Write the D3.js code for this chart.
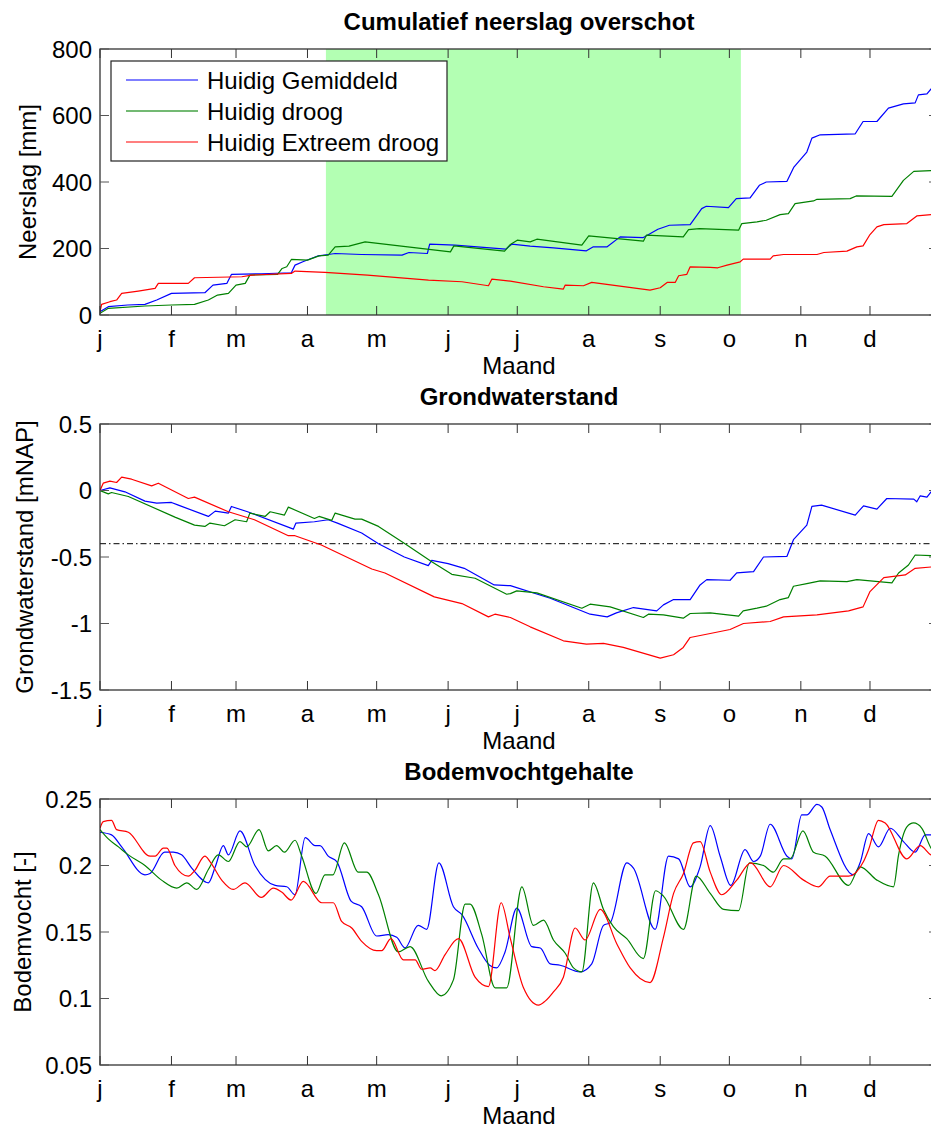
<!DOCTYPE html>
<html>
<head>
<meta charset="utf-8">
<script src="https://cdn.jsdelivr.net/npm/d3@7"></script>
<style>
  html, body { margin: 0; padding: 0; background: #fff; }
  svg { display: block; font-family: "Liberation Sans", Arial, Helvetica, sans-serif; }
</style>
</head>
<body>
<div id="chart"></div>
<script>
// ---------- DATA ----------
const monthTicks  = [0, 31, 59, 90, 120, 151, 181, 212, 243, 273, 304, 334];
const monthLabels = ["j", "f", "m", "a", "m", "j", "j", "a", "s", "o", "n", "d"];

const seriesNames  = ["Huidig Gemiddeld", "Huidig droog", "Huidig Extreem droog"];
const seriesColors = ["#0000ff", "#008000", "#ff0000"];

// Panel 1: Cumulatief neerslag overschot [mm]  ([day, value])
const neerslagGem = [[0,10],[3.6,25],[12,30],[19.5,32],[24.6,45],[31,65],[45.5,67],[49,90],[55,95],[57,122],[70,124],[83,127],[84.6,150],[88,160],[94.7,178],[99,182],[102,185],[113.5,182],[131,180],[134,188],[142,185],[143,213],[154,210],[176,198],[178.6,213],[186.6,207],[196.7,202],[211,193],[214,205],[220,205],[225.6,235],[235.7,233],[242,258],[247,270],[256,272],[261,320],[263,327],[272.6,323],[276,350],[282,352],[286,390],[289,400],[298,402],[301,445],[306.6,490],[308.8,532],[312.4,542],[327.6,545],[331,582],[337,582],[342,622],[348.5,635],[353.6,638],[355,662],[358.7,665],[360.5,680],[364,685]];
const neerslagDroog = [[0,5],[3.6,20],[19.5,27],[31,30],[41,32],[47,45],[51,60],[55.7,65],[59,90],[63,95],[65,120],[77,122],[79,140],[81,145],[83,167],[90,165],[95,178],[99,180],[102,205],[108,207],[115,220],[152,190],[153.5,208],[175.5,192],[178,212],[181,225],[186.6,220],[189.5,228],[209,210],[212,238],[235.7,222],[237,240],[253,235],[255.3,257],[260,260],[277,255],[278.4,275],[285,280],[289,285],[295,302],[298.6,305],[301.5,335],[309.5,343],[311,348],[325.4,350],[328,358],[343.5,357],[348.5,405],[353,432],[360.5,434],[364,435]];
const neerslagExtreem = [[0,10],[0.7,32],[4.3,40],[7.2,45],[9.4,65],[16.6,72],[23.9,80],[25.3,95],[38.3,95],[41,112],[61.5,115],[65.8,120],[83,125],[84.6,132],[97.6,128],[116,120],[142.5,105],[157,100],[168.5,88],[170,108],[178,102],[192.4,85],[201,78],[201.8,90],[209.7,88],[213.3,98],[238.6,75],[243,82],[246,98],[249.5,98],[251,118],[254.5,122],[256,145],[264.7,143],[268,142],[272,150],[277.7,160],[279,168],[290.7,168],[292,178],[296.5,182],[311,182],[314,188],[324,192],[328.3,205],[331,208],[334,242],[337,265],[340,272],[350,275],[354.3,298],[360.5,302],[364,305]];

// Panel 2: Grondwaterstand [mNAP]
const gwGem = [[0,0],[4.3,0.02],[10.8,-0.01],[19.5,-0.08],[24.6,-0.095],[31,-0.09],[34,-0.11],[47,-0.195],[50,-0.155],[55.7,-0.17],[57,-0.12],[64,-0.16],[83.9,-0.29],[85,-0.245],[93,-0.235],[99,-0.22],[103,-0.245],[113.5,-0.32],[120.8,-0.4],[132,-0.5],[142.4,-0.565],[143.9,-0.525],[151,-0.55],[158,-0.585],[171,-0.71],[177,-0.715],[178,-0.715],[195.3,-0.81],[212.6,-0.93],[220,-0.95],[224,-0.92],[231.4,-0.88],[241.5,-0.905],[244.4,-0.86],[248.8,-0.82],[256,-0.82],[260.3,-0.71],[263.2,-0.67],[273.3,-0.675],[276.2,-0.62],[283.5,-0.61],[287.8,-0.5],[298,-0.495],[300.8,-0.37],[306.6,-0.26],[308.8,-0.12],[313,-0.11],[327.6,-0.185],[331.2,-0.115],[337,-0.14],[341.3,-0.06],[353,-0.065],[354.3,-0.085],[355.8,-0.04],[358.7,-0.05],[360.5,-0.01],[364,0.0]];
const gwDroog = [[0,0],[3.6,-0.025],[5,-0.015],[12.3,-0.045],[32.5,-0.2],[41,-0.26],[45.5,-0.27],[47.7,-0.245],[54,-0.265],[58.6,-0.22],[63.6,-0.235],[65,-0.17],[71.6,-0.195],[73.8,-0.16],[80,-0.185],[81.7,-0.125],[93,-0.21],[95,-0.195],[100.5,-0.225],[102,-0.17],[110.6,-0.215],[113.5,-0.215],[120.8,-0.27],[132.3,-0.4],[143.9,-0.535],[152.6,-0.63],[162.7,-0.66],[176.4,-0.78],[178,-0.775],[180.8,-0.755],[189.5,-0.77],[209,-0.885],[212.6,-0.855],[221.3,-0.875],[235.7,-0.955],[237.9,-0.93],[244.4,-0.935],[253,-0.96],[256,-0.925],[264.7,-0.92],[277,-0.945],[279,-0.905],[285,-0.885],[289,-0.87],[295,-0.82],[298.6,-0.805],[300.8,-0.72],[306.6,-0.7],[312.4,-0.68],[324,-0.685],[328.3,-0.67],[343.5,-0.695],[346.4,-0.62],[350.7,-0.56],[353.6,-0.485],[360.5,-0.49],[364,-0.49]];
const gwExtreem = [[0,0],[1.4,0.055],[4.3,0.07],[7.2,0.06],[9.4,0.1],[13.7,0.085],[22.4,0.035],[25.3,0.055],[38.3,-0.06],[41,-0.05],[55.7,-0.16],[67,-0.22],[81.7,-0.34],[84.6,-0.34],[96,-0.41],[117.9,-0.59],[123.6,-0.62],[145,-0.8],[157,-0.85],[168.5,-0.95],[171.3,-0.93],[178,-0.955],[186.6,-1.025],[201,-1.13],[211,-1.155],[218.4,-1.15],[227,-1.18],[243,-1.26],[248.8,-1.235],[253,-1.18],[256,-1.105],[264.7,-1.075],[273.3,-1.045],[279.1,-1.0],[290.7,-0.985],[296.5,-0.95],[311,-0.935],[324.7,-0.905],[331,-0.875],[334,-0.76],[340,-0.655],[349.3,-0.635],[353.6,-0.585],[360.5,-0.575],[364,-0.57]];
const gwThreshold = -0.4;

// Panel 3: Bodemvochtgehalte [-]
const bvGem = [[0,0.225],[5,0.223],[9.4,0.214],[19.5,0.193],[21.7,0.194],[28,0.21],[31.8,0.21],[35.4,0.208],[39.8,0.198],[47,0.187],[50,0.199],[53.5,0.215],[55.7,0.208],[60.7,0.226],[67.2,0.2],[76,0.185],[81,0.184],[84.6,0.178],[89,0.221],[93.3,0.215],[95.4,0.215],[99,0.207],[102.7,0.203],[109,0.173],[113.5,0.169],[120,0.147],[125,0.148],[128.7,0.146],[132.3,0.138],[138,0.155],[141.7,0.152],[147,0.202],[153.3,0.169],[157,0.163],[164,0.138],[169,0.125],[172,0.123],[175.7,0.135],[180.8,0.168],[187.3,0.139],[191,0.138],[195.3,0.126],[199.6,0.125],[208.3,0.12],[213.3,0.126],[218.4,0.155],[221.3,0.157],[228.5,0.202],[231.4,0.198],[240.8,0.152],[246.6,0.207],[251,0.205],[256,0.184],[260.3,0.199],[264.7,0.23],[269,0.207],[273.6,0.185],[279.8,0.212],[283.5,0.203],[286.4,0.207],[290.7,0.231],[298,0.207],[300.1,0.205],[304.4,0.238],[306.6,0.238],[311,0.246],[313.1,0.244],[316.7,0.227],[326.8,0.193],[329.7,0.202],[333.4,0.224],[337.7,0.214],[342.8,0.228],[348.5,0.218],[353.6,0.21],[358,0.223],[364,0.223]];
const bvDroog = [[0,0.227],[3.6,0.22],[8,0.214],[12.3,0.208],[19.5,0.2],[26.7,0.189],[33.3,0.183],[37.6,0.187],[42,0.182],[47,0.197],[51.3,0.208],[55.7,0.203],[60.7,0.218],[63.6,0.214],[69,0.227],[73,0.211],[76.6,0.215],[80,0.21],[84.6,0.219],[87.5,0.207],[93.7,0.179],[97.6,0.193],[101,0.193],[106,0.217],[112,0.195],[115.7,0.195],[120.8,0.178],[129.4,0.135],[134.5,0.139],[142.4,0.113],[148,0.102],[153.3,0.114],[158.4,0.171],[160.5,0.171],[165.6,0.148],[171.4,0.108],[176.4,0.108],[183,0.184],[188,0.155],[192.4,0.159],[196.7,0.144],[201.8,0.134],[205.4,0.123],[209,0.12],[214,0.187],[218.4,0.167],[222.7,0.154],[228.5,0.145],[235.7,0.13],[241,0.181],[244.4,0.177],[253.1,0.152],[258.6,0.192],[264.7,0.179],[270.5,0.167],[277,0.166],[281.7,0.202],[287.8,0.2],[292.1,0.195],[296.5,0.205],[299.4,0.205],[304.9,0.226],[309.5,0.21],[314.6,0.207],[324.7,0.185],[329.7,0.199],[337,0.189],[344.2,0.184],[346.4,0.208],[350,0.229],[352.9,0.232],[356.5,0.228],[360.5,0.213],[364,0.207]];
const bvExtreem = [[0,0.228],[1.4,0.233],[5,0.234],[7.2,0.227],[12.3,0.225],[21.7,0.207],[23.9,0.207],[27.5,0.213],[29,0.213],[32.5,0.2],[38.3,0.192],[41,0.196],[45.5,0.207],[47.7,0.203],[52.8,0.189],[57.8,0.182],[62.9,0.187],[70,0.176],[75.2,0.183],[78.8,0.18],[82.9,0.174],[88.2,0.188],[96.2,0.172],[101.2,0.172],[104.8,0.158],[109.2,0.153],[113.5,0.143],[120,0.136],[122.2,0.136],[126.2,0.145],[131.6,0.129],[136.7,0.129],[139.5,0.122],[143.2,0.123],[145.3,0.121],[149.7,0.133],[155.5,0.145],[162.7,0.116],[168.5,0.109],[174,0.172],[178,0.145],[183.7,0.108],[190.2,0.095],[193.1,0.098],[196.7,0.105],[201,0.116],[206.1,0.153],[210.4,0.144],[217,0.167],[224.2,0.141],[230,0.123],[238.6,0.112],[244.4,0.146],[248.8,0.179],[253.1,0.194],[257.4,0.217],[260.3,0.218],[264.7,0.195],[269.7,0.178],[276.2,0.189],[282.3,0.202],[290.7,0.184],[296.5,0.2],[305.2,0.189],[311.7,0.184],[316.7,0.192],[324.7,0.192],[331.2,0.203],[333.4,0.212],[337.7,0.234],[340.6,0.232],[350,0.205],[355.8,0.215],[360.5,0.208],[364,0.207]];

// Growing season shading (days)
const shadeStart = 98, shadeEnd = 278;

// Axis ticks
const yTicks1 = [0, 200, 400, 600, 800];
const yTicks2 = [0.5, 0, -0.5, -1, -1.5];
const yTicks3 = [0.25, 0.2, 0.15, 0.1, 0.05];

// ---------- LAYOUT ----------
const W = 931, H = 1130;
const xLeft = 100, xRight = 938;
const panelH = 266;
const tickLen = 9;

const svg = d3.select("#chart").append("svg")
  .attr("width", W).attr("height", H).attr("viewBox", `0 0 ${W} ${H}`);

const x = d3.scaleLinear().domain([0, 363.5]).range([xLeft, xRight]);

const panels = [
  { top: 49,  title: "Cumulatief neerslag overschot", ylabel: "Neerslag [mm]", ylabelX: 36,
    domain: [0, 800], ticks: yTicks1, fmt: d => String(d),
    series: [neerslagGem, neerslagDroog, neerslagExtreem], curve: d3.curveLinear, shade: true, legend: true },
  { top: 424, title: "Grondwaterstand", ylabel: "Grondwaterstand [mNAP]", ylabelX: 33,
    domain: [-1.5, 0.5], ticks: yTicks2, fmt: d => String(d),
    series: [gwGem, gwDroog, gwExtreem], curve: d3.curveLinear, threshold: gwThreshold },
  { top: 799, title: "Bodemvochtgehalte", ylabel: "Bodemvocht [-]", ylabelX: 31,
    domain: [0.05, 0.25], ticks: yTicks3, fmt: d => String(d),
    series: [bvGem, bvDroog, bvExtreem], curve: d3.curveMonotoneX }
];

panels.forEach((p, pi) => {
  const top = p.top, bottom = top + panelH;
  const y = d3.scaleLinear().domain(p.domain).range([bottom, top]);
  const g = svg.append("g");
  const clipId = "clip" + pi;
  svg.append("clipPath").attr("id", clipId).append("rect")
    .attr("x", xLeft).attr("y", top).attr("width", xRight - xLeft).attr("height", panelH);

  // shading
  if (p.shade) {
    g.append("rect")
      .attr("x", x(shadeStart)).attr("y", top)
      .attr("width", x(shadeEnd) - x(shadeStart)).attr("height", panelH)
      .attr("fill", "#b3ffb3");
  }

  // threshold
  if (p.threshold !== undefined) {
    g.append("line")
      .attr("x1", xLeft).attr("x2", xRight)
      .attr("y1", y(p.threshold)).attr("y2", y(p.threshold))
      .attr("stroke", "#000").attr("stroke-width", 1)
      .attr("stroke-dasharray", "6,3,1.5,3");
  }

  // lines
  const line = d3.line().x(d => x(d[0])).y(d => y(d[1])).curve(p.curve);
  const lg = g.append("g").attr("clip-path", `url(#${clipId})`);
  p.series.forEach((s, i) => {
    lg.append("path").attr("d", line(s))
      .attr("fill", "none").attr("stroke", seriesColors[i]).attr("stroke-width", 1.2)
      .attr("stroke-linejoin", "round");
  });

  // axes box
  g.append("rect").attr("x", xLeft).attr("y", top)
    .attr("width", xRight - xLeft).attr("height", panelH)
    .attr("fill", "none").attr("stroke", "#222").attr("stroke-width", 1.2);

  // x ticks (bottom & top, inward)
  const xt = g.append("g");
  monthTicks.forEach(t => {
    xt.append("line").attr("x1", x(t)).attr("x2", x(t)).attr("y1", bottom).attr("y2", bottom - tickLen)
      .attr("stroke", "#333").attr("stroke-width", 1);
    xt.append("line").attr("x1", x(t)).attr("x2", x(t)).attr("y1", top).attr("y2", top + tickLen)
      .attr("stroke", "#333").attr("stroke-width", 1);
  });
  monthLabels.forEach((lab, i) => {
    xt.append("text").attr("x", x(monthTicks[i])).attr("y", bottom + 32)
      .attr("text-anchor", "middle").attr("font-size", 24).attr("fill", "#000").text(lab);
  });

  // y ticks (left & right, inward)
  const yt = g.append("g");
  p.ticks.forEach(t => {
    yt.append("line").attr("x1", xLeft).attr("x2", xLeft + tickLen).attr("y1", y(t)).attr("y2", y(t))
      .attr("stroke", "#555").attr("stroke-width", 1);
    yt.append("line").attr("x1", xRight).attr("x2", xRight - tickLen).attr("y1", y(t)).attr("y2", y(t))
      .attr("stroke", "#555").attr("stroke-width", 1);
    yt.append("text").attr("x", xLeft - 8).attr("y", y(t)).attr("dy", "0.36em")
      .attr("text-anchor", "end").attr("font-size", 24).attr("fill", "#000").text(p.fmt(t));
  });

  // x label
  g.append("text").attr("x", (xLeft + xRight) / 2).attr("y", bottom + 59)
    .attr("text-anchor", "middle").attr("font-size", 24).attr("fill", "#000").text("Maand");

  // y label
  g.append("text")
    .attr("transform", `translate(${p.ylabelX},${(top + bottom) / 2}) rotate(-90)`)
    .attr("text-anchor", "middle").attr("font-size", 24).attr("fill", "#000").text(p.ylabel);

  // title
  g.append("text").attr("x", (xLeft + xRight) / 2).attr("y", top - 19)
    .attr("text-anchor", "middle").attr("font-size", 24).attr("font-weight", "bold")
    .attr("fill", "#000").text(p.title);

  // legend
  if (p.legend) {
    const lgd = g.append("g");
    lgd.append("rect").attr("x", 111).attr("y", 61).attr("width", 336).attr("height", 100)
      .attr("fill", "#fff").attr("stroke", "#222").attr("stroke-width", 1.2);
    seriesNames.forEach((n, i) => {
      const cy = 80 + i * 31;
      lgd.append("line").attr("x1", 126).attr("x2", 198).attr("y1", cy).attr("y2", cy)
        .attr("stroke", seriesColors[i]).attr("stroke-width", i === 1 ? 2 : 1.2)
        .attr("stroke-opacity", i === 1 ? 0.55 : 1);
      lgd.append("text").attr("x", 207).attr("y", cy).attr("dy", "0.36em")
        .attr("font-size", 24).attr("fill", "#000").text(n);
    });
  }
});
</script>
</body>
</html>
